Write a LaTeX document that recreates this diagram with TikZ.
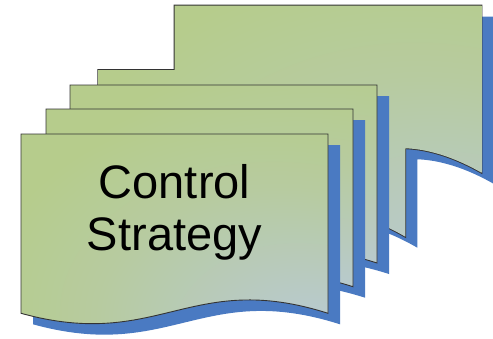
\documentclass[tikz,border=0pt]{standalone}
\usepackage{fontspec}
\setmainfont{Liberation Sans}
\definecolor{gA}{HTML}{B6CC8C}
\definecolor{gB}{HTML}{B9C9DB}
\definecolor{shb}{HTML}{4A7AC2}
\definecolor{outl}{HTML}{333333}
\pgfdeclareradialshading{cornerglow}{\pgfpoint{25bp}{-25bp}}{color(0bp)=(gB); color(12bp)=(gB!70!gA); color(30bp)=(gB!25!gA); color(45bp)=(gA); color(100bp)=(gA)}
% document shape: x, y (top-left), h (bottom corner), dip, rise
\newcommand{\mydoc}[5]{(#1,#2) -- (#1+307,#2) -- (#1+307,#2+#3) .. controls (#1+168.85,#2+#3-#5) and (#1+138.15,#2+#3+#4) .. (#1,#2+#3) -- cycle}
\tikzset{
  docfill/.style={shading=cornerglow},
  docline/.style={draw=outl, line width=0.9pt, line join=miter},
  docshadow/.style={fill=shb, shift={(12,11)}}
}
\begin{document}
\begin{tikzpicture}[x=1pt,y=-1pt]
\useasboundingbox (0,0) rectangle (493,338);
% back multidocument (two sheets merged)
\fill[docshadow] \mydoc{98.3}{70}{166.7}{60}{80} \mydoc{174.5}{5.5}{167.2}{60}{78};
\draw[draw=outl, line width=1.8pt] \mydoc{98.3}{70}{166.7}{60}{80} \mydoc{174.5}{5.5}{167.2}{60}{78};
\shade[docfill] \mydoc{98.3}{70}{166.7}{60}{80} \mydoc{174.5}{5.5}{167.2}{60}{78};
% sheet C
\fill[docshadow] \mydoc{70}{85}{178}{38}{44};
\shade[docfill] \mydoc{70}{85}{178}{38}{44};
\draw[docline] \mydoc{70}{85}{178}{38}{44};
% sheet B
\fill[docshadow] \mydoc{46}{109}{177.7}{38}{44};
\shade[docfill] \mydoc{46}{109}{177.7}{38}{44};
\draw[docline] \mydoc{46}{109}{177.7}{38}{44};
% sheet A (front)
\fill[docshadow] \mydoc{21}{134}{179.3}{38}{44};
\shade[docfill] \mydoc{21}{134}{179.3}{38}{44};
\draw[docline] \mydoc{21}{134}{179.3}{38}{44};
\node[font=\fontsize{47}{52.5}\selectfont, align=center, inner sep=0pt] (lbl) at (174.5,212.5) {Control\\Strategy};
\end{tikzpicture}
\end{document}
